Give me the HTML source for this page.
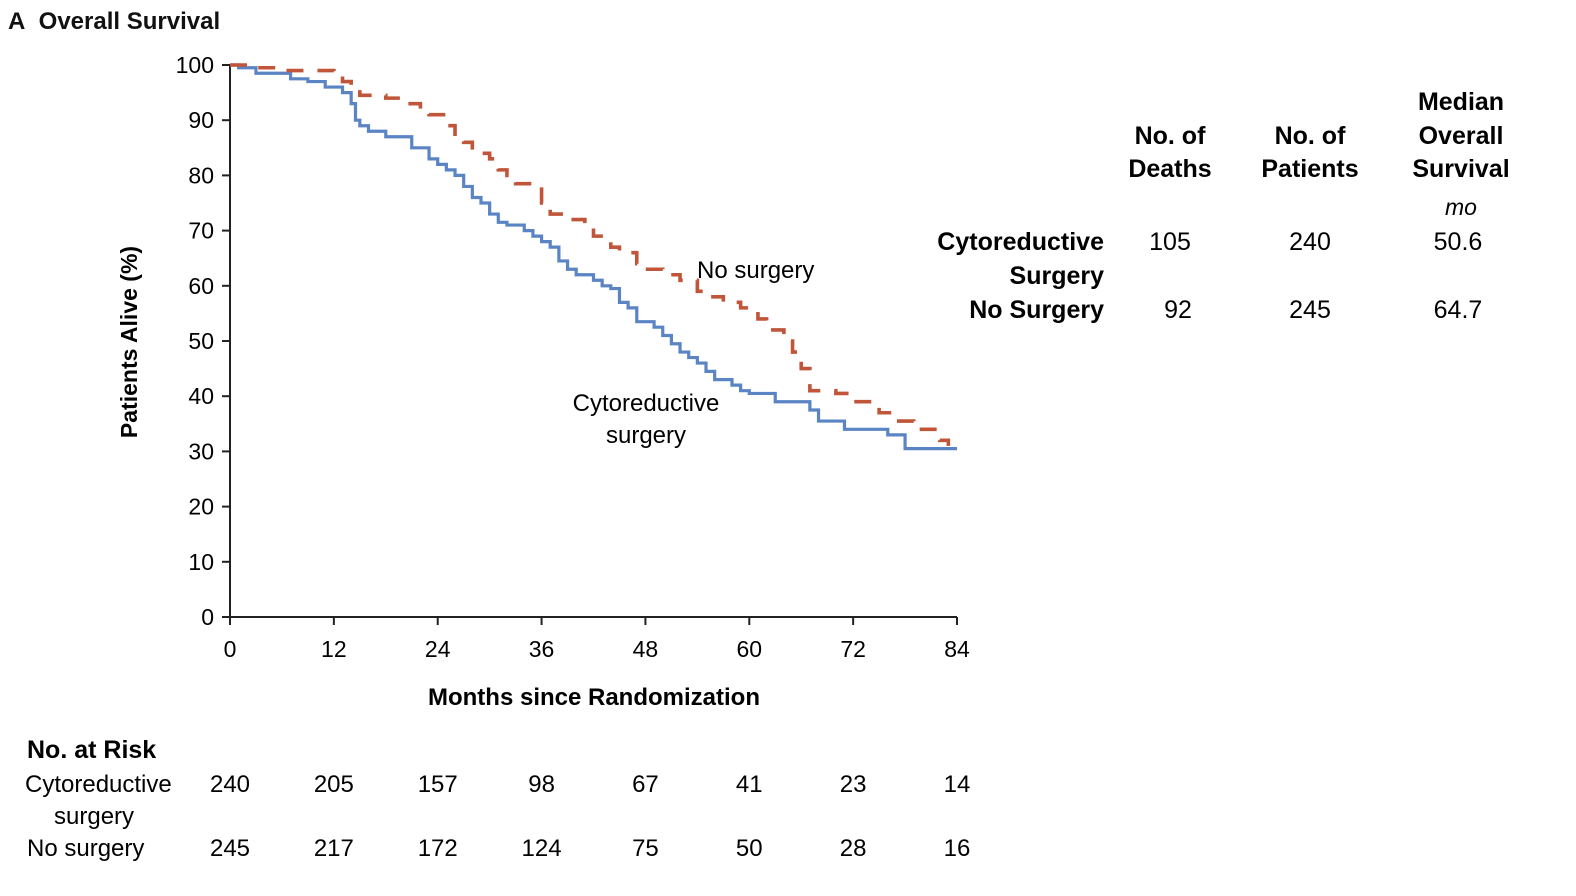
<!DOCTYPE html>
<html><head><meta charset="utf-8"><style>
body{margin:0;background:#fff}
svg{display:block;font-family:"Liberation Sans",sans-serif}
</style></head><body>
<svg width="1576" height="896" id="chart">
<text x="8" y="29" font-size="24" font-weight="bold" fill="#111">A&#160; Overall Survival</text>
<text transform="translate(137,342) rotate(-90)" text-anchor="middle" font-size="23" font-weight="bold">Patients Alive (%)</text>
<text x="594" y="705" text-anchor="middle" font-size="24" font-weight="bold">Months since Randomization</text>
<g id="axes"></g>
<g id="curves"></g>
<text x="697" y="278" font-size="24">No surgery</text>
<text x="646" y="411" text-anchor="middle" font-size="24">Cytoreductive</text>
<text x="646" y="443" text-anchor="middle" font-size="24">surgery</text>
<g font-size="25" font-weight="bold" text-anchor="middle">
<text x="1170" y="144">No. of</text><text x="1170" y="177">Deaths</text>
<text x="1310" y="144">No. of</text><text x="1310" y="177">Patients</text>
<text x="1461" y="110">Median</text><text x="1461" y="144">Overall</text><text x="1461" y="177">Survival</text>
</g>
<text x="1461" y="215" font-size="23" font-style="italic" text-anchor="middle">mo</text>
<g font-size="25">
<text x="1104" y="250" text-anchor="end" font-weight="bold">Cytoreductive</text>
<text x="1104" y="284" text-anchor="end" font-weight="bold">Surgery</text>
<text x="1104" y="318" text-anchor="end" font-weight="bold">No Surgery</text>
<text x="1170" y="250" text-anchor="middle">105</text><text x="1310" y="250" text-anchor="middle">240</text><text x="1458" y="250" text-anchor="middle">50.6</text>
<text x="1178" y="318" text-anchor="middle">92</text><text x="1310" y="318" text-anchor="middle">245</text><text x="1458" y="318" text-anchor="middle">64.7</text>
</g>
<text x="27" y="758" font-size="25" font-weight="bold">No. at Risk</text>
<text x="25" y="792" font-size="24">Cytoreductive</text>
<text x="54" y="824" font-size="24">surgery</text>
<text x="27" y="856" font-size="24">No surgery</text>
<g id="risk" font-size="24" text-anchor="middle"></g>
</svg>
<script>
const xTicks=[0,12,24,36,48,60,72,84];
const yTicks=[0,10,20,30,40,50,60,70,80,90,100];
const cytoT=[0,1,3,7,9,11,13,14,14.5,15,16,18,21,23,24,25,26,27,28,29,30,31,32,34,35,36,37,38,39,40,42,43,44,45,46,47,49,50,51,52,53,54,55,56,58,59,60,63,67,68,71,76,78,84];
const cytoS=[100,99.5,98.5,97.5,97,96,95,93,90,89,88,87,85,83,82,81,80,78,76,75,73,71.5,71,70,69,68,67,64.5,63,62,61,60,59.5,57,56,53.5,52.5,51,49.5,48,47,46,44.5,43,42,41,40.5,39,37.5,35.5,34,33,30.5,30.5];
const noT=[0,2,6,12,13,14,15,18,20,22,23,25,26,27,28,30,31,32,33,35,36,37,39,41,42,44,45,47,48,50,52,54,55,57,59,61,62,64,65,66,67,70,72,75,77,79,82,83];
const noS=[100,99.5,99,98,97,95.5,94.5,94,93,92,91,89,87,86,84,83,81,80,78.5,78,75,73,72,71,69,67,66,64,63,62,61,59,58,57,56,54,52,50,48,45,41,40.5,39,37,35.5,34,32,31];
const riskCyto=[240,205,157,98,67,41,23,14];
const riskNo=[245,217,172,124,75,50,28,16];
const X=m=>230+m*(727/84), Y=v=>617-v*5.52;
const NS="http://www.w3.org/2000/svg";
function mk(tag,attrs,parent){const e=document.createElementNS(NS,tag);for(const k in attrs)e.setAttribute(k,attrs[k]);parent.appendChild(e);return e;}
const ax=document.getElementById('axes');
let a=mk('path',{d:`M230 ${Y(100)}V617H${X(84)}`,stroke:'#222','stroke-width':2,fill:'none'},ax);


yTicks.forEach(v=>{mk('line',{x1:222,x2:230,y1:Y(v),y2:Y(v),stroke:'#222','stroke-width':2},ax);
 const t=mk('text',{x:214,y:Y(v)+8,'text-anchor':'end','font-size':23},ax);t.textContent=v;
 
 });
xTicks.forEach(m=>{mk('line',{x1:X(m),x2:X(m),y1:617,y2:625,stroke:'#222','stroke-width':2},ax);
 const t=mk('text',{x:X(m),y:657,'text-anchor':'middle','font-size':23},ax);t.textContent=m;
 
 });
function step(T,S){let d=`M${X(T[0])} ${Y(S[0])}`;for(let i=1;i<T.length;i++){d+=`H${X(T[i])}V${Y(S[i])}`;}return d;}
const cv=document.getElementById('curves');
const p1=mk('path',{d:step(cytoT,cytoS),stroke:'#5b84c4','stroke-width':3.2,fill:'none'},cv);


const p2=mk('path',{d:step(noT,noS),stroke:'#c0553a','stroke-width':3.6,fill:'none','stroke-dasharray':'17 14'},cv);


const rk=document.getElementById('risk');
xTicks.forEach((m,i)=>{
 const a=mk('text',{x:X(m),y:792},rk);a.textContent=riskCyto[i];
 
 
 const b=mk('text',{x:X(m),y:856},rk);b.textContent=riskNo[i];
 
 
});
</script>
</body></html>
